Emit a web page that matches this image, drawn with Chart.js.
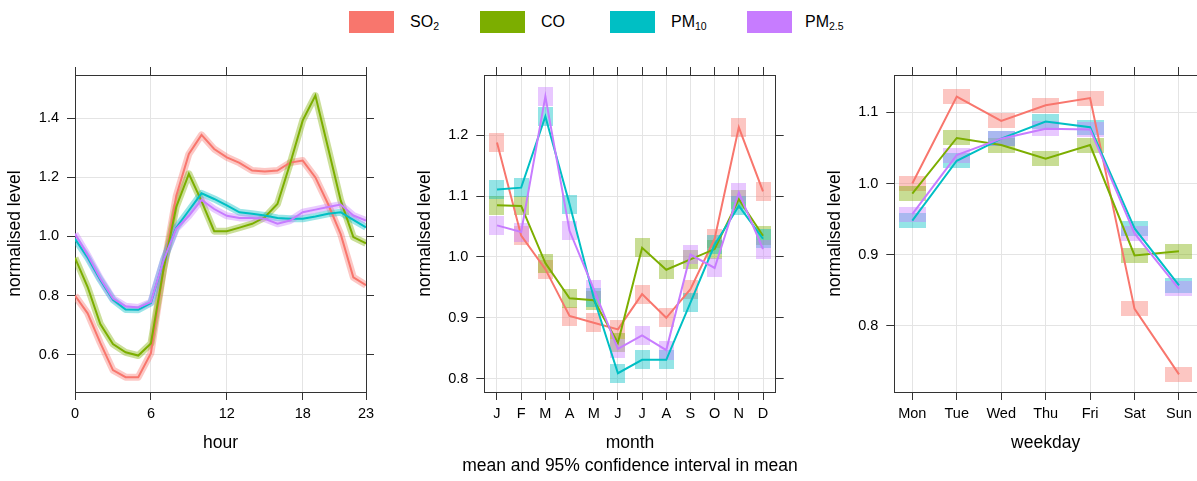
<!DOCTYPE html>
<html>
<head>
<meta charset="utf-8">
<script src="https://cdn.jsdelivr.net/npm/chart.js@4/dist/chart.umd.min.js"></script>
<style>
html,body{margin:0;padding:0;background:#fff;width:1197px;height:481px;overflow:hidden;font-family:"Liberation Sans",Arial,Helvetica,sans-serif;}
body{position:relative;}
canvas{position:absolute;top:0;}
#legend{position:absolute;top:0;left:0;width:1197px;height:45px;}
.key{position:absolute;top:11px;width:45px;height:22px;}
.lab{position:absolute;top:11px;height:22px;line-height:22px;font-size:16px;color:#000;white-space:nowrap;}
.lab sub{font-size:10.5px;vertical-align:-3px;line-height:0;}
</style>
</head>
<body>
<div id="legend"></div>
<script>
// ---------------- data ----------------
const seriesNames = [['SO','2'],['CO',''],['PM','10'],['PM','2.5']];
const seriesColors = ['#F8766D','#7CAE00','#00BFC4','#C77CFF'];

const hours = [0,1,2,3,4,5,6,7,8,9,10,11,12,13,14,15,16,17,18,19,20,21,22,23];
const hourTicks = [0,6,12,18,23];
const hourLevelTicks = [0.6,0.8,1.0,1.2,1.4];
const so2Hour  = [0.800,0.740,0.640,0.548,0.524,0.524,0.605,0.890,1.137,1.279,1.344,1.296,1.268,1.249,1.223,1.220,1.223,1.250,1.257,1.200,1.110,1.008,0.862,0.835];
const coHour   = [0.928,0.829,0.704,0.636,0.608,0.597,0.638,0.890,1.100,1.212,1.120,1.018,1.018,1.030,1.043,1.065,1.110,1.246,1.393,1.477,1.300,1.122,0.998,0.977];
const pm10Hour = [0.992,0.928,0.853,0.786,0.753,0.752,0.775,0.920,1.030,1.088,1.146,1.127,1.105,1.082,1.077,1.071,1.063,1.060,1.060,1.068,1.077,1.082,1.056,1.031];
const pm25Hour = [1.009,0.937,0.858,0.790,0.764,0.760,0.778,0.920,1.026,1.070,1.124,1.093,1.070,1.063,1.063,1.060,1.043,1.054,1.082,1.091,1.100,1.108,1.071,1.054];

const months = [1,2,3,4,5,6,7,8,9,10,11,12];
const monthLabels = ['J','F','M','A','M','J','J','A','S','O','N','D'];
const monthLevelTicks = [0.8,0.9,1.0,1.1,1.2];
const so2Month  = [1.188,1.035,0.980,0.903,0.892,0.881,0.939,0.900,0.947,1.030,1.213,1.108];
const coMonth   = [1.085,1.084,0.990,0.932,0.929,0.859,1.015,0.979,0.996,1.013,1.095,1.035];
const pm10Month = [1.111,1.114,1.231,1.087,0.933,0.809,0.831,0.831,0.925,1.020,1.084,1.030];
const pm25Month = [1.052,1.041,1.264,1.043,0.947,0.849,0.871,0.847,1.004,0.982,1.106,1.013];

const weekdays = [1,2,3,4,5,6,7];
const dayLabels = ['Mon','Tue','Wed','Thu','Fri','Sat','Sun'];
const dayLevelTicks = [0.8,0.9,1.0,1.1];
const so2Day  = [1.000,1.122,1.088,1.110,1.120,0.824,0.732];
const coDay   = [0.986,1.064,1.054,1.035,1.054,0.899,0.905];
const pm10Day = [0.948,1.032,1.063,1.087,1.079,0.937,0.857];
const pm25Day = [0.957,1.040,1.063,1.077,1.076,0.930,0.852];

const yTitle = 'normalised level';
const caption = 'mean and 95% confidence interval in mean';

// ---------------- legend ----------------
const legendKeyX = [349, 480, 610, 747];
const legendLabX = [410, 541, 671, 805];
const lg = document.getElementById('legend');
seriesNames.forEach((n,i)=>{
  const k = document.createElement('div');
  k.className='key'; k.style.left = legendKeyX[i]+'px'; k.style.background = seriesColors[i];
  lg.appendChild(k);
  const t = document.createElement('div');
  t.className='lab'; t.style.left = legendLabX[i]+'px';
  t.innerHTML = n[0] + (n[1] ? '<sub>'+n[1]+'</sub>' : '');
  lg.appendChild(t);
});

// ---------------- helpers ----------------
const FONT = '"Liberation Sans", Arial, Helvetica, sans-serif';
Chart.defaults.font.family = FONT;
Chart.defaults.color = '#000';
const FRAME = '#333333';
const GRID = '#e4e4e4';

function rgba(hex,a){
  const r=parseInt(hex.slice(1,3),16), g=parseInt(hex.slice(3,5),16), b=parseInt(hex.slice(5,7),16);
  return 'rgba('+r+','+g+','+b+','+a+')';
}
function toXY(xs, ys){ return xs.map((x,i)=>({x:x, y:ys[i]})); }
function fixedTicks(vals){ return s => { s.ticks = vals.map(v=>({value:v})); }; }
function fitW(w){ return s => { s.width=w; s.paddingTop=0; s.paddingBottom=0; s.paddingLeft=0; s.paddingRight=0; }; }
function fitH(h){ return s => { s.height=h; s.paddingTop=0; s.paddingBottom=0; s.paddingLeft=0; s.paddingRight=0; }; }
function rectStyle(color, w, h){
  const c = document.createElement('canvas');
  c.width = w; c.height = h;
  const g = c.getContext('2d');
  g.fillStyle = rgba(color, 0.42);
  g.fillRect(0,0,w,h);
  return c;
}

function panel(cfg){
  const cv = document.createElement('canvas');
  cv.width = cfg.w; cv.height = 481;
  cv.style.left = cfg.left+'px'; cv.style.width = cfg.w+'px'; cv.style.height = '481px';
  document.body.appendChild(cv);

  const datasets = [];
  cfg.series.forEach((ys,i)=>{
    const pts = toXY(cfg.xs, ys);
    if (cfg.band) {
      datasets.push({data:pts, borderColor:rgba(seriesColors[i],0.4), borderWidth:7,
        borderJoinStyle:'round', pointRadius:0, tension:0, order:30-i});
    } else {
      datasets.push({data:pts, showLine:false, pointStyle:rectStyle(seriesColors[i], cfg.boxW, cfg.boxH),
        pointRadius:8, order:30-i});
    }
    datasets.push({data:pts, borderColor:seriesColors[i], borderWidth:2, pointRadius:0,
      tension:0, order:10-i});
  });

  const tickFont = {size:14.5};
  const titleFont = {size:17.5};
  new Chart(cv, {
    type:'line',
    data:{datasets:datasets},
    options:{
      responsive:false, animation:false, events:[],
      layout:{padding:0},
      plugins:{
        legend:{display:false}, tooltip:{enabled:false},
        title: cfg.caption ? {display:true, position:'bottom', text:cfg.caption,
          font:{size:17.5, weight:'normal'}, color:'#000', padding:{top:0,bottom:4.3}} : {display:false}
      },
      scales:{
        x:{type:'linear', position:'bottom', min:cfg.xmin, max:cfg.xmax,
          afterBuildTicks:fixedTicks(cfg.xticks), afterFit:fitH(cfg.bottomH),
          grid:{color:GRID, lineWidth:1, tickColor:FRAME, tickLength:8},
          border:{display:true, color:FRAME, width:1},
          ticks:{font:tickFont, color:'#000', padding:5, maxRotation:0, autoSkip:false, callback:cfg.xlabel},
          title:{display:true, text:cfg.xtitle, font:titleFont, color:'#000', padding:{top:0,bottom:cfg.xtitlePad}}},
        x2:{type:'linear', position:'top', min:cfg.xmin, max:cfg.xmax,
          afterBuildTicks:fixedTicks(cfg.xticks), afterFit:fitH(75),
          grid:{drawOnChartArea:false, tickColor:FRAME, tickLength:8},
          border:{display:true, color:FRAME, width:1},
          ticks:{display:false}},
        y:{type:'linear', position:'left', min:cfg.ymin, max:cfg.ymax,
          afterBuildTicks:fixedTicks(cfg.yticks), afterFit:fitW(cfg.leftW),
          grid:{color:GRID, lineWidth:1, tickColor:FRAME, tickLength:8},
          border:{display:true, color:FRAME, width:1},
          ticks:{font:tickFont, color:'#000', padding:8, callback:v=>Number(v).toFixed(1)},
          title:{display:true, text:yTitle, font:titleFont, color:'#000', padding:{top:5,bottom:0}}},
        y2:{type:'linear', position:'right', min:cfg.ymin, max:cfg.ymax,
          afterBuildTicks:fixedTicks(cfg.yticks), afterFit:fitW(cfg.rightW),
          grid:{drawOnChartArea:false, tickColor:FRAME, tickLength:8},
          border:{display:true, color:FRAME, width:1},
          ticks:{display:false}}
      }
    }
  });
}

// hour panel
panel({left:0, w:390, leftW:75, rightW:24, bottomH:89, xtitlePad:27.2,
  xs:hours, series:[so2Hour,coHour,pm10Hour,pm25Hour], band:true,
  xmin:0, xmax:23, xticks:hourTicks, xlabel:v=>String(v), xtitle:'hour',
  ymin:0.4738, ymax:1.5465, yticks:hourLevelTicks});

// month panel
panel({left:410, w:440, leftW:74.3, rightW:74.3, bottomH:63.7, xtitlePad:2.2, caption:caption,
  xs:months, series:[so2Month,coMonth,pm10Month,pm25Month], band:false, boxW:15, boxH:19,
  xmin:0.475, xmax:12.525, xticks:months, xlabel:v=>monthLabels[v-1], xtitle:'month',
  ymin:0.7781, ymax:1.2991, yticks:monthLevelTicks});

// weekday panel (its right frame falls just outside the page, as in the reference)
panel({left:820, w:400, leftW:74.3, rightW:23, bottomH:89, xtitlePad:27.2,
  xs:weekdays, series:[so2Day,coDay,pm10Day,pm25Day], band:false, boxW:27, boxH:15,
  xmin:0.595, xmax:7.405, xticks:weekdays, xlabel:v=>dayLabels[v-1], xtitle:'weekday',
  ymin:0.7073, ymax:1.1524, yticks:dayLevelTicks});
</script>
</body>
</html>
